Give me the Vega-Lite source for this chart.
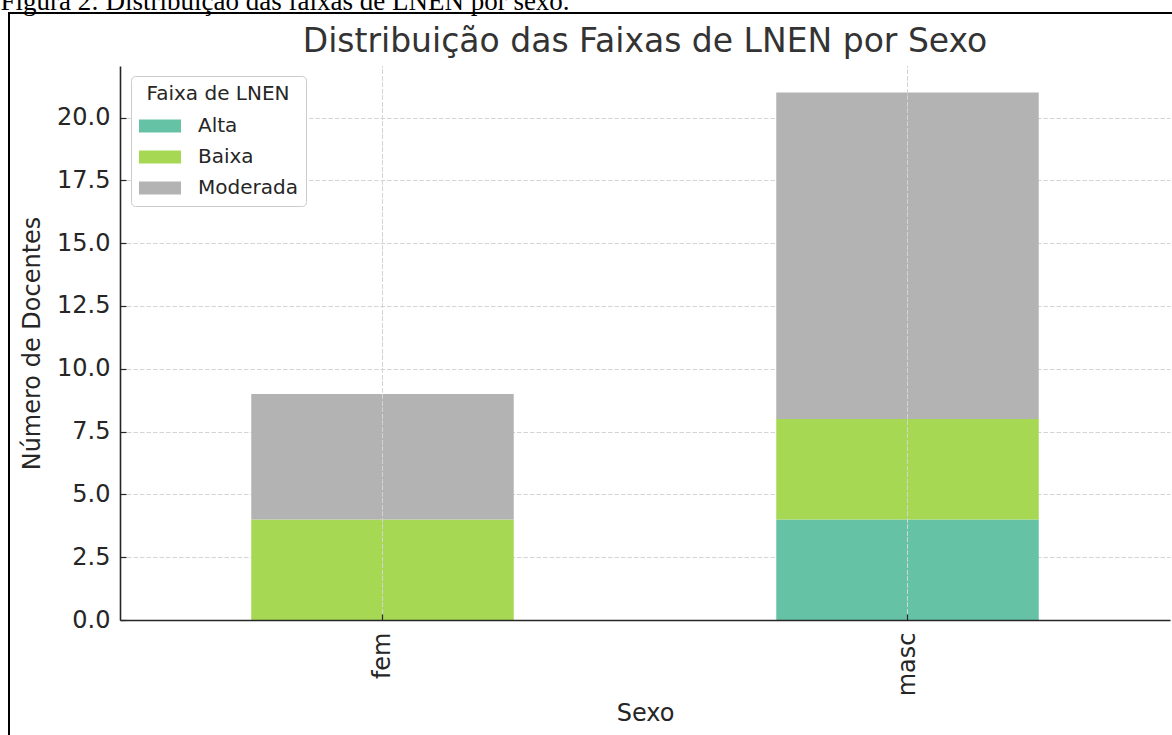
{
  "$schema": "https://vega.github.io/schema/vega-lite/v6.json",
  "autosize": "none",
  "padding": {"left": 9, "top": 13, "right": 0, "bottom": 0},
  "width": 1272,
  "height": 760,
  "background": "white",
  "title": {
    "text": "Distribuição das Faixas de LNEN por Sexo",
    "anchor": "middle",
    "frame": "group",
    "baseline": "alphabetic",
    "offset": -98,
    "font": "DejaVu Sans",
    "fontSize": 33,
    "fontWeight": "normal",
    "color": "#333333"
  },
  "data": {
    "values": [
      {"Sexo": "fem", "Faixa": "Alta", "n": 0},
      {"Sexo": "fem", "Faixa": "Baixa", "n": 4},
      {"Sexo": "fem", "Faixa": "Moderada", "n": 5},
      {"Sexo": "masc", "Faixa": "Alta", "n": 4},
      {"Sexo": "masc", "Faixa": "Baixa", "n": 4},
      {"Sexo": "masc", "Faixa": "Moderada", "n": 13}
    ]
  },
  "resolve": {"axis": {"x": "independent", "y": "independent"}},
  "layer": [
    {
      "mark": {"type": "bar"},
      "encoding": {
        "x": {
          "field": "Sexo",
          "type": "nominal",
          "scale": {"type": "band", "domain": ["fem", "masc"], "range": [111, 1161], "paddingInner": 0.5, "paddingOuter": 0.25},
          "axis": {
            "orient": "bottom",
            "offset": -153,
            "title": "Sexo",
            "grid": false,
            "zindex": 1,
            "labelAngle": 270,
            "labelFontSize": 24,
            "labelPadding": 18,
            "tickSize": -6,
            "titleFontSize": 24,
            "titlePadding": 6
          }
        },
        "y": {
          "field": "n",
          "type": "quantitative",
          "stack": "zero",
          "scale": {"domain": [0, 22.05], "range": [607, 53], "nice": false, "zero": true},
          "axis": {
            "orient": "left",
            "offset": -111,
            "title": "Número de Docentes",
            "values": [0, 2.5, 5, 7.5, 10, 12.5, 15, 17.5, 20],
            "format": ".1f",
            "grid": true,
            "labelFontSize": 24,
            "labelPadding": 16,
            "tickSize": -6,
            "titleFontSize": 24,
            "titlePadding": 12
          }
        },
        "order": {"field": "Faixa", "sort": "ascending"},
        "color": {
          "field": "Faixa",
          "type": "nominal",
          "scale": {"domain": ["Alta", "Baixa", "Moderada"], "range": ["#66c2a5", "#a6d854", "#b3b3b3"]},
          "legend": {
            "title": "Faixa de LNEN",
            "orient": "none",
            "legendX": 122,
            "legendY": 63,
            "symbolType": "M-1,-0.31H1V0.31H-1Z",
            "symbolSize": 1764,
            "symbolStrokeWidth": 0,
            "symbolOpacity": 1,
            "labelFontSize": 20,
            "labelOffset": 17,
            "labelColor": "#262626",
            "titleFontSize": 20,
            "titleFontWeight": "normal",
            "titleColor": "#262626",
            "titleAnchor": "middle",
            "titlePadding": 1,
            "rowPadding": 0,
            "padding": 8,
            "strokeColor": "#cccccc",
            "fillColor": "white",
            "cornerRadius": 4
          }
        }
      }
    },
    {
      "mark": {"type": "rule", "color": "#d4d4d4", "strokeDash": [4.5, 2], "strokeWidth": 1},
      "encoding": {
        "x": {
          "field": "Sexo",
          "type": "nominal",
          "axis": {
            "orient": "top",
            "domain": false,
            "labels": false,
            "ticks": false,
            "grid": false,
            "title": "Figura 2: Distribuição das faixas de LNEN por sexo.",
            "titleFont": "Liberation Serif",
            "titleFontSize": 27,
            "titleFontWeight": "normal",
            "titleColor": "#000000",
            "titleAlign": "left",
            "titleBaseline": "alphabetic",
            "titleAnchor": "start",
            "titleX": -9,
            "titleY": -4
          }
        },
        "y": {"datum": 0, "axis": null},
        "y2": {"datum": 22.05}
      }
    }
  ],
  "config": {
    "view": {"stroke": "#000000", "strokeWidth": 2},
    "font": "DejaVu Sans",
    "axis": {
      "labelFont": "DejaVu Sans",
      "titleFont": "DejaVu Sans",
      "labelColor": "#262626",
      "titleColor": "#262626",
      "titleFontWeight": "normal",
      "domainColor": "#262626",
      "domainWidth": 1.6,
      "tickColor": "#262626",
      "tickWidth": 1.2,
      "gridColor": "#d4d4d4",
      "gridDash": [4.5, 2],
      "gridWidth": 1
    },
    "legend": {"labelFont": "DejaVu Sans", "titleFont": "DejaVu Sans"}
  }
}
